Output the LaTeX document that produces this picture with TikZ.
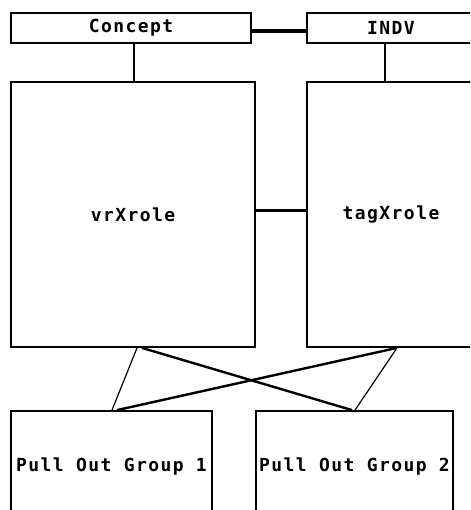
\documentclass[tikz,border=0pt]{standalone}
\usepackage{fontspec}
\setmonofont{DejaVu Sans Mono}[LetterSpace=8]
\begin{document}
\begin{tikzpicture}[x=1pt,y=-1pt,
  box/.style={draw,line width=1.8pt,rectangle,inner sep=0pt,
    font=\fontsize{18}{18}\selectfont\ttfamily\bfseries},
  thickline/.style={line width=3.5pt},
  thinline/.style={line width=1.2pt},
  midline/.style={line width=2.4pt}]
\useasboundingbox (0,0) rectangle (470,510);
\clip (0,0) rectangle (470,510);
\node[box,minimum width=240pt,minimum height=30pt] (concept) at (131,28) {Concept};
\node[box,minimum width=168pt,minimum height=30pt] (indv) at (391,28) {INDV};
\node[box,minimum width=244pt,minimum height=265pt] (vrx) at (133,214.5) {vrXrole};
\node[box,minimum width=168pt,minimum height=265pt] (tagx) at (391,214.5) {tagXrole};
\node[box,minimum width=201pt,minimum height=112pt] (pg1) at (111.5,467) {Pull Out Group 1};
\node[box,minimum width=197pt,minimum height=112pt] (pg2) at (354.5,467) {Pull Out Group 2};
\draw[thickline] ([yshift=-3pt]concept.east) -- ([yshift=-3pt]indv.west);
\draw[midline] ([xshift=3pt]concept.south) -- ([xshift=3pt]concept.south |- vrx.north);
\draw[midline] ([xshift=-6pt]indv.south) -- ([xshift=-6pt]indv.south |- tagx.north);
\draw[thickline] ([yshift=4pt]vrx.east) -- ([yshift=4pt]tagx.west);
\draw[thinline] ([xshift=4pt]vrx.south) -- ([xshift=0.5pt]pg1.north);
\draw[midline] ([xshift=9pt]vrx.south) -- ([xshift=-2.5pt]pg2.north);
\draw[midline] ([xshift=6pt]tagx.south) -- ([xshift=5.5pt]pg1.north);
\draw[thinline] ([xshift=6pt]tagx.south) -- ([xshift=0.5pt]pg2.north);
\end{tikzpicture}
\end{document}
